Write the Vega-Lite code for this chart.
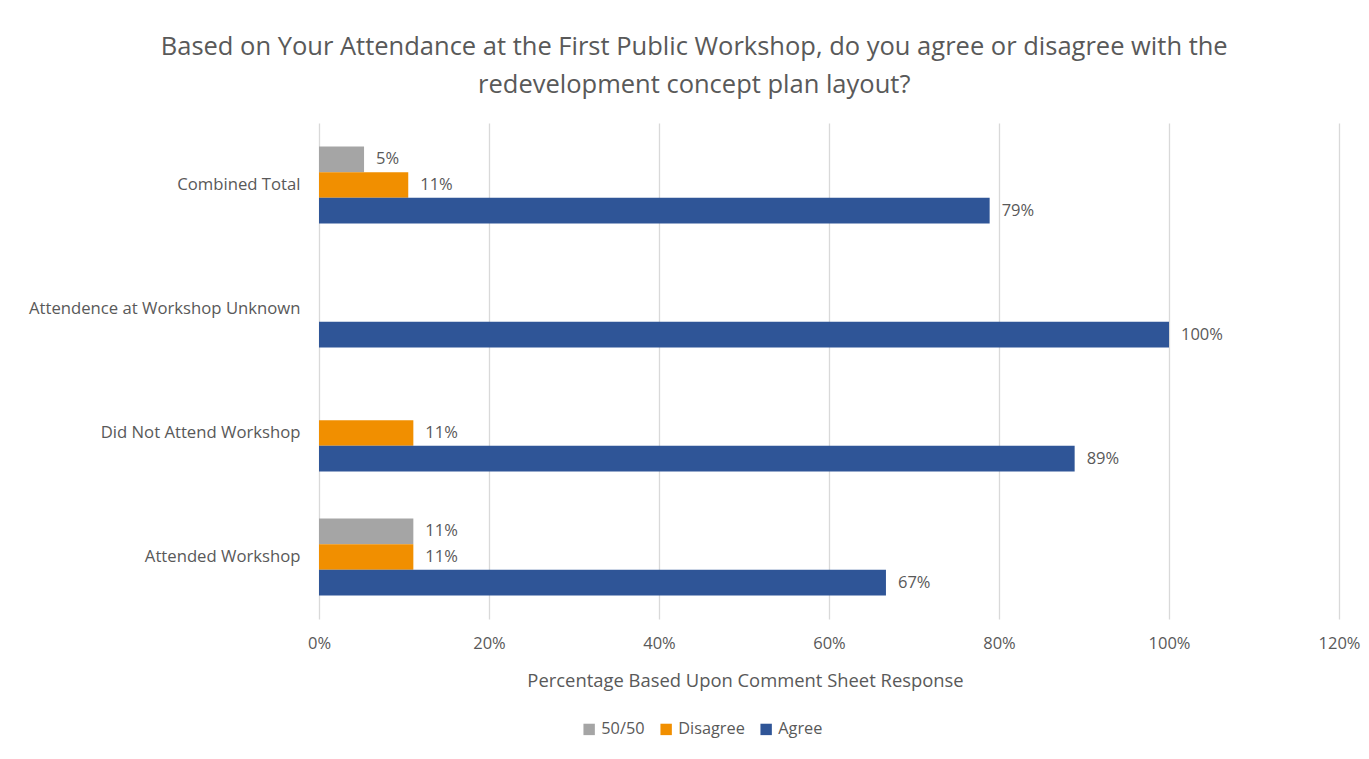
{
  "$schema": "https://vega.github.io/schema/vega-lite/v6.json",
  "autosize": "none",
  "padding": {"left": 319, "top": 123, "right": 30, "bottom": 140},
  "width": 1020,
  "height": 496,
  "background": "white",
  "title": {
    "text": ["Based on Your Attendance at the First Public Workshop, do you agree or disagree with the", "redevelopment concept plan layout?"],
    "frame": "bounds",
    "anchor": "middle",
    "font": "Open Sans",
    "fontSize": 25.5,
    "fontWeight": "normal",
    "color": "#595959",
    "lineHeight": 38,
    "offset": 25
  },
  "data": {
    "values": [
      {"group": "Combined Total", "response": "50/50", "pct": 0.053},
      {"group": "Combined Total", "response": "Disagree", "pct": 0.105},
      {"group": "Combined Total", "response": "Agree", "pct": 0.789},
      {"group": "Attendence at Workshop Unknown", "response": "Agree", "pct": 1.0},
      {"group": "Did Not Attend Workshop", "response": "Disagree", "pct": 0.111},
      {"group": "Did Not Attend Workshop", "response": "Agree", "pct": 0.889},
      {"group": "Attended Workshop", "response": "50/50", "pct": 0.111},
      {"group": "Attended Workshop", "response": "Disagree", "pct": 0.111},
      {"group": "Attended Workshop", "response": "Agree", "pct": 0.667}
    ]
  },
  "encoding": {
    "y": {
      "field": "group",
      "type": "nominal",
      "sort": ["Combined Total", "Attendence at Workshop Unknown", "Did Not Attend Workshop", "Attended Workshop"],
      "scale": {"paddingInner": 0.38, "paddingOuter": 0.19},
      "axis": {"title": null, "domain": false, "ticks": false, "labelFont": "Open Sans", "labelFontSize": 16.7, "labelColor": "#595959", "labelPadding": 19, "labelLimit": 400}
    },
    "yOffset": {
      "field": "response",
      "type": "nominal",
      "sort": ["50/50", "Disagree", "Agree"],
      "scale": {"paddingInner": 0, "paddingOuter": 0}
    },
    "x": {
      "field": "pct",
      "type": "quantitative",
      "scale": {"domain": [0, 1.2], "nice": false},
      "axis": {
        "title": "Percentage Based Upon Comment Sheet Response",
        "format": ".0%",
        "values": [0, 0.2, 0.4, 0.6, 0.8, 1.0, 1.2],
        "domain": false,
        "ticks": false,
        "grid": true,
        "gridColor": "#d9d9d9",
        "gridWidth": 1.3,
        "labelFlush": false,
        "labelFont": "Open Sans",
        "labelFontSize": 16.5,
        "labelColor": "#595959",
        "labelPadding": 16,
        "titleFont": "Open Sans",
        "titleFontSize": 18.4,
        "titleFontWeight": "normal",
        "titleColor": "#595959",
        "titlePadding": 20,
        "titleX": 426
      }
    }
  },
  "layer": [
    {
      "mark": {"type": "bar"},
      "encoding": {
        "color": {
          "field": "response",
          "type": "nominal",
          "scale": {"domain": ["50/50", "Disagree", "Agree"], "range": ["#A5A5A5", "#F18F00", "#2F5597"]},
          "legend": {
            "title": null,
            "orient": "none",
            "direction": "horizontal",
            "legendX": 262,
            "legendY": 598,
            "symbolType": "square",
            "symbolSize": 130,
            "symbolStrokeWidth": 0,
            "labelFont": "Open Sans",
            "labelFontSize": 16.3,
            "labelColor": "#595959",
            "columnPadding": 13,
            "labelOffset": 4
          }
        }
      }
    },
    {
      "mark": {"type": "text", "align": "left", "baseline": "middle", "dx": 12, "font": "Open Sans", "fontSize": 16.5, "color": "#595959"},
      "encoding": {
        "text": {"field": "pct", "type": "quantitative", "format": ".0%"}
      }
    }
  ],
  "config": {"view": {"stroke": null}}
}
